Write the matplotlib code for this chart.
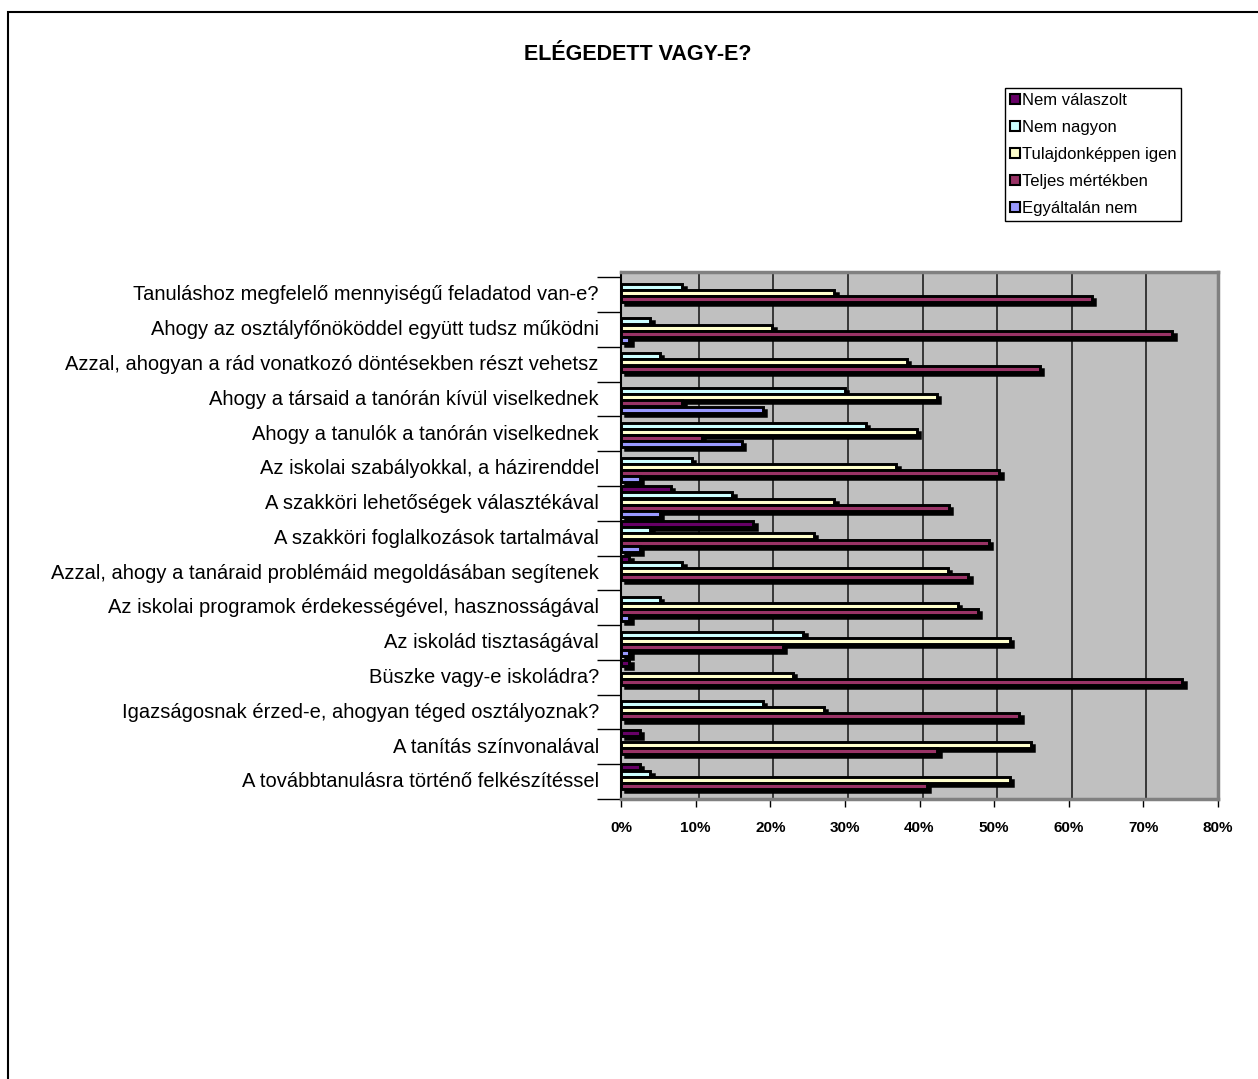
import numpy as np
import matplotlib
matplotlib.use('Agg')
import matplotlib.pyplot as plt
import matplotlib.transforms as mtransforms
from matplotlib.patches import Patch, Rectangle

plt.rcParams['font.family'] = ['Liberation Sans', 'DejaVu Sans']

# kategoriak (fentrol lefele)
categories = [
    'Tanuláshoz megfelelő mennyiségű feladatod van-e?',
    'Ahogy az osztályfőnököddel együtt tudsz működni',
    'Azzal, ahogyan a rád vonatkozó döntésekben részt vehetsz',
    'Ahogy a társaid a tanórán kívül viselkednek',
    'Ahogy a tanulók a tanórán viselkednek',
    'Az iskolai szabályokkal, a házirenddel',
    'A szakköri lehetőségek választékával',
    'A szakköri foglalkozások tartalmával',
    'Azzal, ahogy a tanáraid problémáid megoldásában segítenek',
    'Az iskolai programok érdekességével, hasznosságával',
    'Az iskolád tisztaságával',
    'Büszke vagy-e iskoládra?',
    'Igazságosnak érzed-e, ahogyan téged osztályoznak?',
    'A tanítás színvonalával',
    'A továbbtanulásra történő felkészítéssel',
]

# szazalekok, sorrend mint a kategoriak
nem_valaszolt = [0, 0, 0, 0, 0, 0, 6.7, 17.7, 1.1, 0, 0, 1.1, 0, 2.5, 2.5]
nem_nagyon = [8.2, 3.9, 5.2, 30.0, 32.8, 9.5, 14.9, 3.9, 8.2, 5.2, 24.4, 0, 19.0, 0, 3.9]
tulajdonkeppen = [28.6, 20.3, 38.3, 42.3, 39.6, 36.9, 28.6, 25.8, 43.8, 45.1, 52.1, 23.0, 27.2, 54.9, 52.1]
teljes = [63.1, 73.9, 56.1, 8.2, 10.8, 50.7, 43.9, 49.3, 46.5, 47.8, 21.7, 75.2, 53.4, 42.4, 41.0]
egyaltalan = [0, 1.1, 0, 19.0, 16.2, 2.5, 5.2, 2.5, 0, 1.1, 1.1, 0, 0, 0, 0]

series_names = ['Nem válaszolt', 'Nem nagyon', 'Tulajdonképpen igen', 'Teljes mértékben', 'Egyáltalán nem']
series_values = [nem_valaszolt, nem_nagyon, tulajdonkeppen, teljes, egyaltalan]
colors = ['#660066', '#CCFFFF', '#FFFFCC', '#993366', '#9999FF']

W, H = 1258, 1079
fig = plt.figure(figsize=(W / 100, H / 100), dpi=100)

# keret
fig.patches.append(Rectangle((8 / W, -0.01), 1.2, 1 - 12 / H + 0.01, transform=fig.transFigure,
                             fill=False, edgecolor='black', linewidth=1.5))

left, right, top, bottom = 621, 1218, 272, 799
ax = fig.add_axes([left / W, 1 - bottom / H, (right - left) / W, (bottom - top) / H])
ax.set_facecolor('#C0C0C0')

y = np.arange(len(categories))
pitch = 0.178
shadow = mtransforms.ScaledTranslation(3.5 / 100, -3 / 100, fig.dpi_scale_trans)

for k, (vals, col) in enumerate(zip(series_values, colors)):
    pos = y + (k - 2) * pitch
    sh = ax.barh(pos, vals, height=0.175, color='black', edgecolor='black', linewidth=1.8, zorder=3)
    for p in sh.patches:
        if p.get_width() > 0:
            p.set_transform(ax.transData + shadow)
        else:
            p.set_visible(False)
    bars = ax.barh(pos, vals, height=0.172, color=col, edgecolor='black', linewidth=2.1, zorder=4)
    for p in bars.patches:
        if p.get_width() <= 0:
            p.set_visible(False)

ax.set_xlim(0, 80)
ax.set_ylim(len(categories) - 0.45, -0.6)

# racsvonalak a hatso falon
grid_off = mtransforms.ScaledTranslation(3 / 100, 0, fig.dpi_scale_trans)
for gx in range(10, 80, 10):
    ax.plot([gx, gx], [len(categories) - 0.45, -0.6], color='#202020', linewidth=1.2,
            zorder=1, transform=ax.transData + grid_off)

ax.set_xticks(np.arange(0, 81, 10))
ax.set_xticklabels([f'{v}%' for v in range(0, 81, 10)], fontsize=11, fontweight='bold')
ax.tick_params(axis='x', length=6, width=1, pad=10, color='black')

ax.set_yticks(np.arange(-0.45, len(categories), 1), minor=False)
ax.set_yticklabels([])
ax.set_yticks(y, minor=True)
ax.set_yticklabels(categories, minor=True, fontsize=14.5)
ax.tick_params(axis='y', which='major', length=17, width=1, color='black')
ax.tick_params(axis='y', which='minor', length=0, pad=16)

for s in ['top', 'right']:
    ax.spines[s].set_color('#808080')
    ax.spines[s].set_linewidth(2.5)
ax.spines['left'].set_color('black')
ax.spines['left'].set_linewidth(1.5)
ax.spines['bottom'].set_color('#808080')
ax.spines['bottom'].set_linewidth(2.5)

fig.text(638 / W, 1 - 55 / H, 'ELÉGEDETT VAGY-E?', ha='center', va='center',
         fontsize=15.5, fontweight='bold')

handles = [Patch(facecolor=c, edgecolor='black', linewidth=1.5) for c in colors]
leg = fig.legend(handles, series_names, loc='upper left',
                 bbox_to_anchor=(1005 / W, 1 - 88 / H), fontsize=12,
                 frameon=True, fancybox=False, edgecolor='black', framealpha=1,
                 handlelength=0.6, handleheight=0.6, handletextpad=0.1,
                 labelspacing=0.72, borderpad=0.3, borderaxespad=0)
leg.get_frame().set_linewidth(1.0)

fig.savefig('out.png', dpi=100)
